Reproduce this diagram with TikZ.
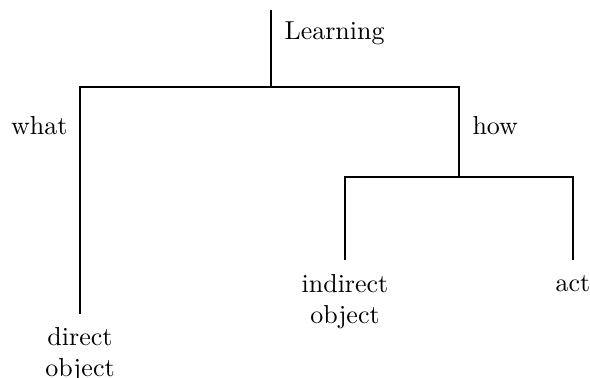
\documentclass[tikz,border=0pt]{standalone}
\begin{document}
\begin{tikzpicture}[x=0.385pt, y=-0.385pt,
    branch/.style={line width=0.8pt, line join=miter},
    lbl/.style={inner sep=0pt, font=\normalsize},
    leaf/.style={inner sep=0pt, anchor=north, align=center}]
  \useasboundingbox (0,0) rectangle (590,378);

  % junction points of the tree
  \coordinate (top) at (271,10);
  \coordinate (j0)  at (271,87);
  \coordinate (jl)  at (80,87);
  \coordinate (jr)  at (459,87);
  \coordinate (j1)  at (459,177);
  \coordinate (jll) at (345,177);
  \coordinate (jrr) at (573,177);
  \coordinate (endD) at (80,314);
  \coordinate (endI) at (345,260);
  \coordinate (endA) at (573,260);

  % labels
  \node[lbl, anchor=base west] (learning) at (284,39.5) {Learning};
  \node[lbl, anchor=base east] (what) at (68,135) {what};
  \node[lbl, anchor=base west] (how) at (472,135) {how};
  \node[leaf] (direct) at (80,327) {direct\\object};
  \node[leaf] (indirect) at (345,274) {indirect\\object};
  \node[lbl, anchor=base] (act) at (573,292) {act};

  % branches
  \draw[branch] (top) -- (j0);
  \draw[branch] (endD) -- (jl) -- (jr) -- (j1);
  \draw[branch] (endI) -- (jll) -- (jrr) -- (endA);
\end{tikzpicture}
\end{document}
